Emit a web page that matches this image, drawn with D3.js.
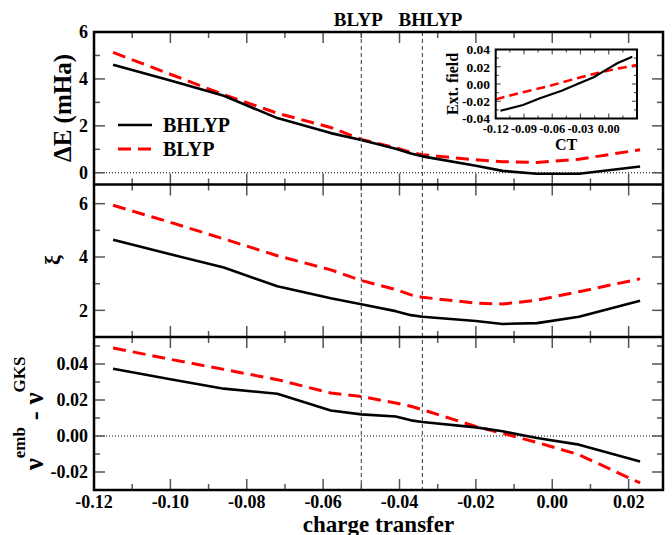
<!DOCTYPE html>
<html><head><meta charset="utf-8">
<script src="https://cdn.jsdelivr.net/npm/d3@7"></script>
<style>
html,body{margin:0;padding:0;background:#fff;}
svg text{font-family:"Liberation Serif","Times New Roman",serif;font-weight:bold;fill:#000;}
</style></head>
<body><svg id="c" width="672" height="535"></svg>
<script>
// ---------- data ----------
const chargeTransfer = [-0.115, -0.100, -0.086, -0.072, -0.058, -0.050, -0.041, -0.037, -0.034, -0.020, -0.013, -0.004, 0.007, 0.023];
const dE_BHLYP = [4.60, 3.93, 3.28, 2.33, 1.69, 1.40, 1.02, 0.82, 0.70, 0.30, 0.08, -0.04, -0.04, 0.27];
const dE_BLYP  = [5.13, 4.20, 3.33, 2.54, 1.93, 1.42, 1.07, 0.87, 0.77, 0.55, 0.47, 0.44, 0.58, 0.98];
const xi_BHLYP = [4.65, 4.10, 3.61, 2.90, 2.45, 2.23, 1.97, 1.82, 1.76, 1.60, 1.49, 1.52, 1.76, 2.36];
const xi_BLYP  = [5.94, 5.30, 4.68, 4.05, 3.52, 3.12, 2.78, 2.58, 2.49, 2.27, 2.24, 2.38, 2.70, 3.18];
const dv_BHLYP = [0.0374, 0.0315, 0.0263, 0.0235, 0.0142, 0.0120, 0.0108, 0.0087, 0.0078, 0.0048, 0.0026, -0.0011, -0.0048, -0.0141];
const dv_BLYP  = [0.0489, 0.0426, 0.0370, 0.0313, 0.0239, 0.0220, 0.0183, 0.0165, 0.0146, 0.0053, 0.0015, -0.0036, -0.0104, -0.0261];

const insetCT_BHLYP = [-0.115, -0.091, -0.073, -0.050, -0.030, -0.016, -0.002, 0.009, 0.025];
const insetExt_BHLYP = [-0.0310, -0.0244, -0.0166, -0.0078, 0.0015, 0.0078, 0.0170, 0.0240, 0.0317];
const insetCT_BLYP = [-0.120, -0.091, -0.066, -0.034, -0.013, 0.009, 0.030];
const insetExt_BLYP = [-0.0178, -0.0095, -0.0031, 0.0065, 0.0124, 0.0178, 0.0220];

const markCT = [-0.050, -0.034];
const markLabels = ["BLYP", "BHLYP"];
const seriesNames = ["BHLYP", "BLYP"];

const xTicks = [-0.12, -0.10, -0.08, -0.06, -0.04, -0.02, 0.00, 0.02];
const yTicksTop = [0, 2, 4, 6];
const yTicksMid = [2, 4, 6];
const yTicksBot = [-0.02, 0.00, 0.02, 0.04];
const insetXTicks = [-0.12, -0.09, -0.06, -0.03, 0.00];
const insetYTicks = [-0.04, -0.02, 0.00, 0.02, 0.04];

// ---------- layout ----------
const svg = d3.select("#c");
const L = 94, R = 663;
const x = d3.scaleLinear().domain([-0.12, 0.029]).range([L, R]);
const panels = [
  {y: d3.scaleLinear().domain([-0.5, 6]).range([184.5, 32]), ticks: yTicksTop, minor: 1, fmt: d3.format("d"), a: dE_BHLYP, b: dE_BLYP, zero: true},
  {y: d3.scaleLinear().domain([1, 6.72]).range([337, 184.5]), ticks: yTicksMid, minor: 1, fmt: d3.format("d"), a: xi_BHLYP, b: xi_BLYP, zero: false},
  {y: d3.scaleLinear().domain([-0.03, 0.055]).range([490, 337]), ticks: yTicksBot, minor: 0.01, fmt: d3.format(".2f"), a: dv_BHLYP, b: dv_BLYP, zero: true}
];
const tickCol = "#555";
const fmtX = d3.format(".2f");
const minus = s => s.replace("−", "-");

function range(a, b, s) { const r = []; for (let v = a; v <= b + 1e-9; v += s) r.push(+v.toFixed(4)); return r; }

panels.forEach((p, i) => {
  const [yb, yt] = p.y.range();
  const g = svg.append("g");
  if (p.zero) g.append("line").attr("x1", L).attr("x2", R).attr("y1", p.y(0)).attr("y2", p.y(0))
    .attr("stroke", "#000").attr("stroke-width", 1).attr("stroke-dasharray", "1,2");
  const xMaj = range(-0.12, 0.02, 0.02), xMin = range(-0.11, 0.02, 0.02);
  [[xMaj, 11], [xMin, 6]].forEach(([arr, len]) => {
    arr.forEach(v => {
      g.append("line").attr("x1", x(v)).attr("x2", x(v)).attr("y1", yb).attr("y2", yb - len).attr("stroke", tickCol).attr("stroke-width", 1.5);
      g.append("line").attr("x1", x(v)).attr("x2", x(v)).attr("y1", yt).attr("y2", yt + len).attr("stroke", tickCol).attr("stroke-width", 1.5);
    });
  });
  const [d0, d1] = p.y.domain();
  const all = range(Math.ceil(d0 / p.minor - 1e-9) * p.minor, d1, p.minor);
  all.forEach(v => {
    const isMaj = p.ticks.some(t => Math.abs(t - v) < 1e-6);
    const len = isMaj ? 11 : 6;
    g.append("line").attr("x1", L).attr("x2", L + len).attr("y1", p.y(v)).attr("y2", p.y(v)).attr("stroke", tickCol).attr("stroke-width", 1.5);
    g.append("line").attr("x1", R).attr("x2", R - len).attr("y1", p.y(v)).attr("y2", p.y(v)).attr("stroke", tickCol).attr("stroke-width", 1.5);
  });
  p.ticks.forEach(v => {
    g.append("text").attr("x", 88).attr("y", p.y(v)).attr("dy", "0.36em").attr("text-anchor", "end")
      .attr("font-size", 18).text(minus(p.fmt(v)));
  });
  const line = vals => d3.line().x((d, k) => x(chargeTransfer[k])).y(d => p.y(d))(vals);
  g.append("path").attr("d", line(p.b)).attr("fill", "none").attr("stroke", "#ff0000").attr("stroke-width", 3).attr("stroke-dasharray", "13,7");
  g.append("path").attr("d", line(p.a)).attr("fill", "none").attr("stroke", "#000").attr("stroke-width", 2.6).attr("stroke-linejoin", "round");
});

markCT.forEach(v => {
  svg.append("line").attr("x1", x(v)).attr("x2", x(v)).attr("y1", 32).attr("y2", 490)
    .attr("stroke", "#555").attr("stroke-width", 1.2).attr("stroke-dasharray", "4,3");
});
svg.append("text").attr("x", x(markCT[0]) - 3).attr("y", 26).attr("text-anchor", "middle").attr("font-size", 19).text(markLabels[0]);
svg.append("text").attr("x", x(markCT[1]) + 8).attr("y", 26).attr("text-anchor", "middle").attr("font-size", 19).text(markLabels[1]);

svg.append("rect").attr("x", L).attr("y", 32).attr("width", R - L).attr("height", 490 - 32)
  .attr("fill", "none").attr("stroke", "#000").attr("stroke-width", 2.5);
[184.5, 337].forEach(yy => svg.append("line").attr("x1", L).attr("x2", R).attr("y1", yy).attr("y2", yy).attr("stroke", "#000").attr("stroke-width", 2.5));

xTicks.forEach(v => {
  svg.append("text").attr("x", x(v)).attr("y", 508).attr("text-anchor", "middle").attr("font-size", 18).text(minus(fmtX(v)));
});
svg.append("text").attr("x", (L + R) / 2).attr("y", 532).attr("text-anchor", "middle").attr("font-size", 23).text("charge transfer");

svg.append("text").attr("transform", "translate(71,108) rotate(-90)").attr("text-anchor", "middle").attr("font-size", 25).text("ΔE (mHa)");
svg.append("text").attr("transform", "translate(60,260) rotate(-90)").attr("text-anchor", "middle").attr("font-size", 22).attr("font-weight", "normal").text("ξ");
const yl = svg.append("text").attr("transform", "translate(43,413.5) rotate(-90)").attr("text-anchor", "middle").attr("font-size", 27);
yl.append("tspan").text("ν");
yl.append("tspan").attr("font-size", 17).attr("dy", -18).text("emb");
yl.append("tspan").attr("dy", 18).text(" - ν");
yl.append("tspan").attr("font-size", 17).attr("dy", -18).text("GKS");

const legY = [125, 149];
seriesNames.forEach((n, i) => {
  svg.append("line").attr("x1", 118).attr("x2", 152).attr("y1", legY[i]).attr("y2", legY[i])
    .attr("stroke", i === 0 ? "#000" : "#ff0000").attr("stroke-width", i === 0 ? 2.6 : 3)
    .attr("stroke-dasharray", i === 0 ? null : "13,7");
  svg.append("text").attr("x", 163).attr("y", legY[i] + 7).attr("font-size", 20).text(n);
});

const ix = d3.scaleLinear().domain([-0.12, 0.03]).range([495.7, 637]);
const iy = d3.scaleLinear().domain([-0.04, 0.04]).range([118.5, 49.5]);
const ig = svg.append("g");
ig.append("rect").attr("x", 495.7).attr("y", 49.5).attr("width", 637 - 495.7).attr("height", 69).attr("fill", "#fff");
range(-0.12, 0.03, 0.015).forEach((v, k) => {
  const len = k % 2 === 0 ? 5 : 3;
  ig.append("line").attr("x1", ix(v)).attr("x2", ix(v)).attr("y1", 118.5).attr("y2", 118.5 - len).attr("stroke", tickCol).attr("stroke-width", 1.2);
  ig.append("line").attr("x1", ix(v)).attr("x2", ix(v)).attr("y1", 49.5).attr("y2", 49.5 + len).attr("stroke", tickCol).attr("stroke-width", 1.2);
});
range(-0.04, 0.04, 0.01).forEach((v, k) => {
  const len = k % 2 === 0 ? 5 : 3;
  ig.append("line").attr("x1", 495.7).attr("x2", 495.7 + len).attr("y1", iy(v)).attr("y2", iy(v)).attr("stroke", tickCol).attr("stroke-width", 1.2);
  ig.append("line").attr("x1", 637).attr("x2", 637 - len).attr("y1", iy(v)).attr("y2", iy(v)).attr("stroke", tickCol).attr("stroke-width", 1.2);
});
const iline = (xs, ys) => d3.line().x((d, k) => ix(xs[k])).y(d => iy(d))(ys);
ig.append("path").attr("d", iline(insetCT_BLYP, insetExt_BLYP)).attr("fill", "none").attr("stroke", "#ff0000").attr("stroke-width", 2.5).attr("stroke-dasharray", "9,5");
ig.append("path").attr("d", iline(insetCT_BHLYP, insetExt_BHLYP)).attr("fill", "none").attr("stroke", "#000").attr("stroke-width", 2.2);
ig.append("rect").attr("x", 495.7).attr("y", 49.5).attr("width", 637 - 495.7).attr("height", 69).attr("fill", "none").attr("stroke", "#000").attr("stroke-width", 2);
insetXTicks.forEach(v => ig.append("text").attr("x", ix(v)).attr("y", 133).attr("text-anchor", "middle").attr("font-size", 12.5).text(minus(fmtX(v))));
insetYTicks.forEach(v => ig.append("text").attr("x", 490).attr("y", iy(v)).attr("dy", "0.36em").attr("text-anchor", "end").attr("font-size", 13.5).text(minus(fmtX(v))));
ig.append("text").attr("x", 566).attr("y", 150).attr("text-anchor", "middle").attr("font-size", 16).text("CT");
ig.append("text").attr("transform", "translate(458,84) rotate(-90)").attr("text-anchor", "middle").attr("font-size", 16).text("Ext. field");
</script></body></html>
